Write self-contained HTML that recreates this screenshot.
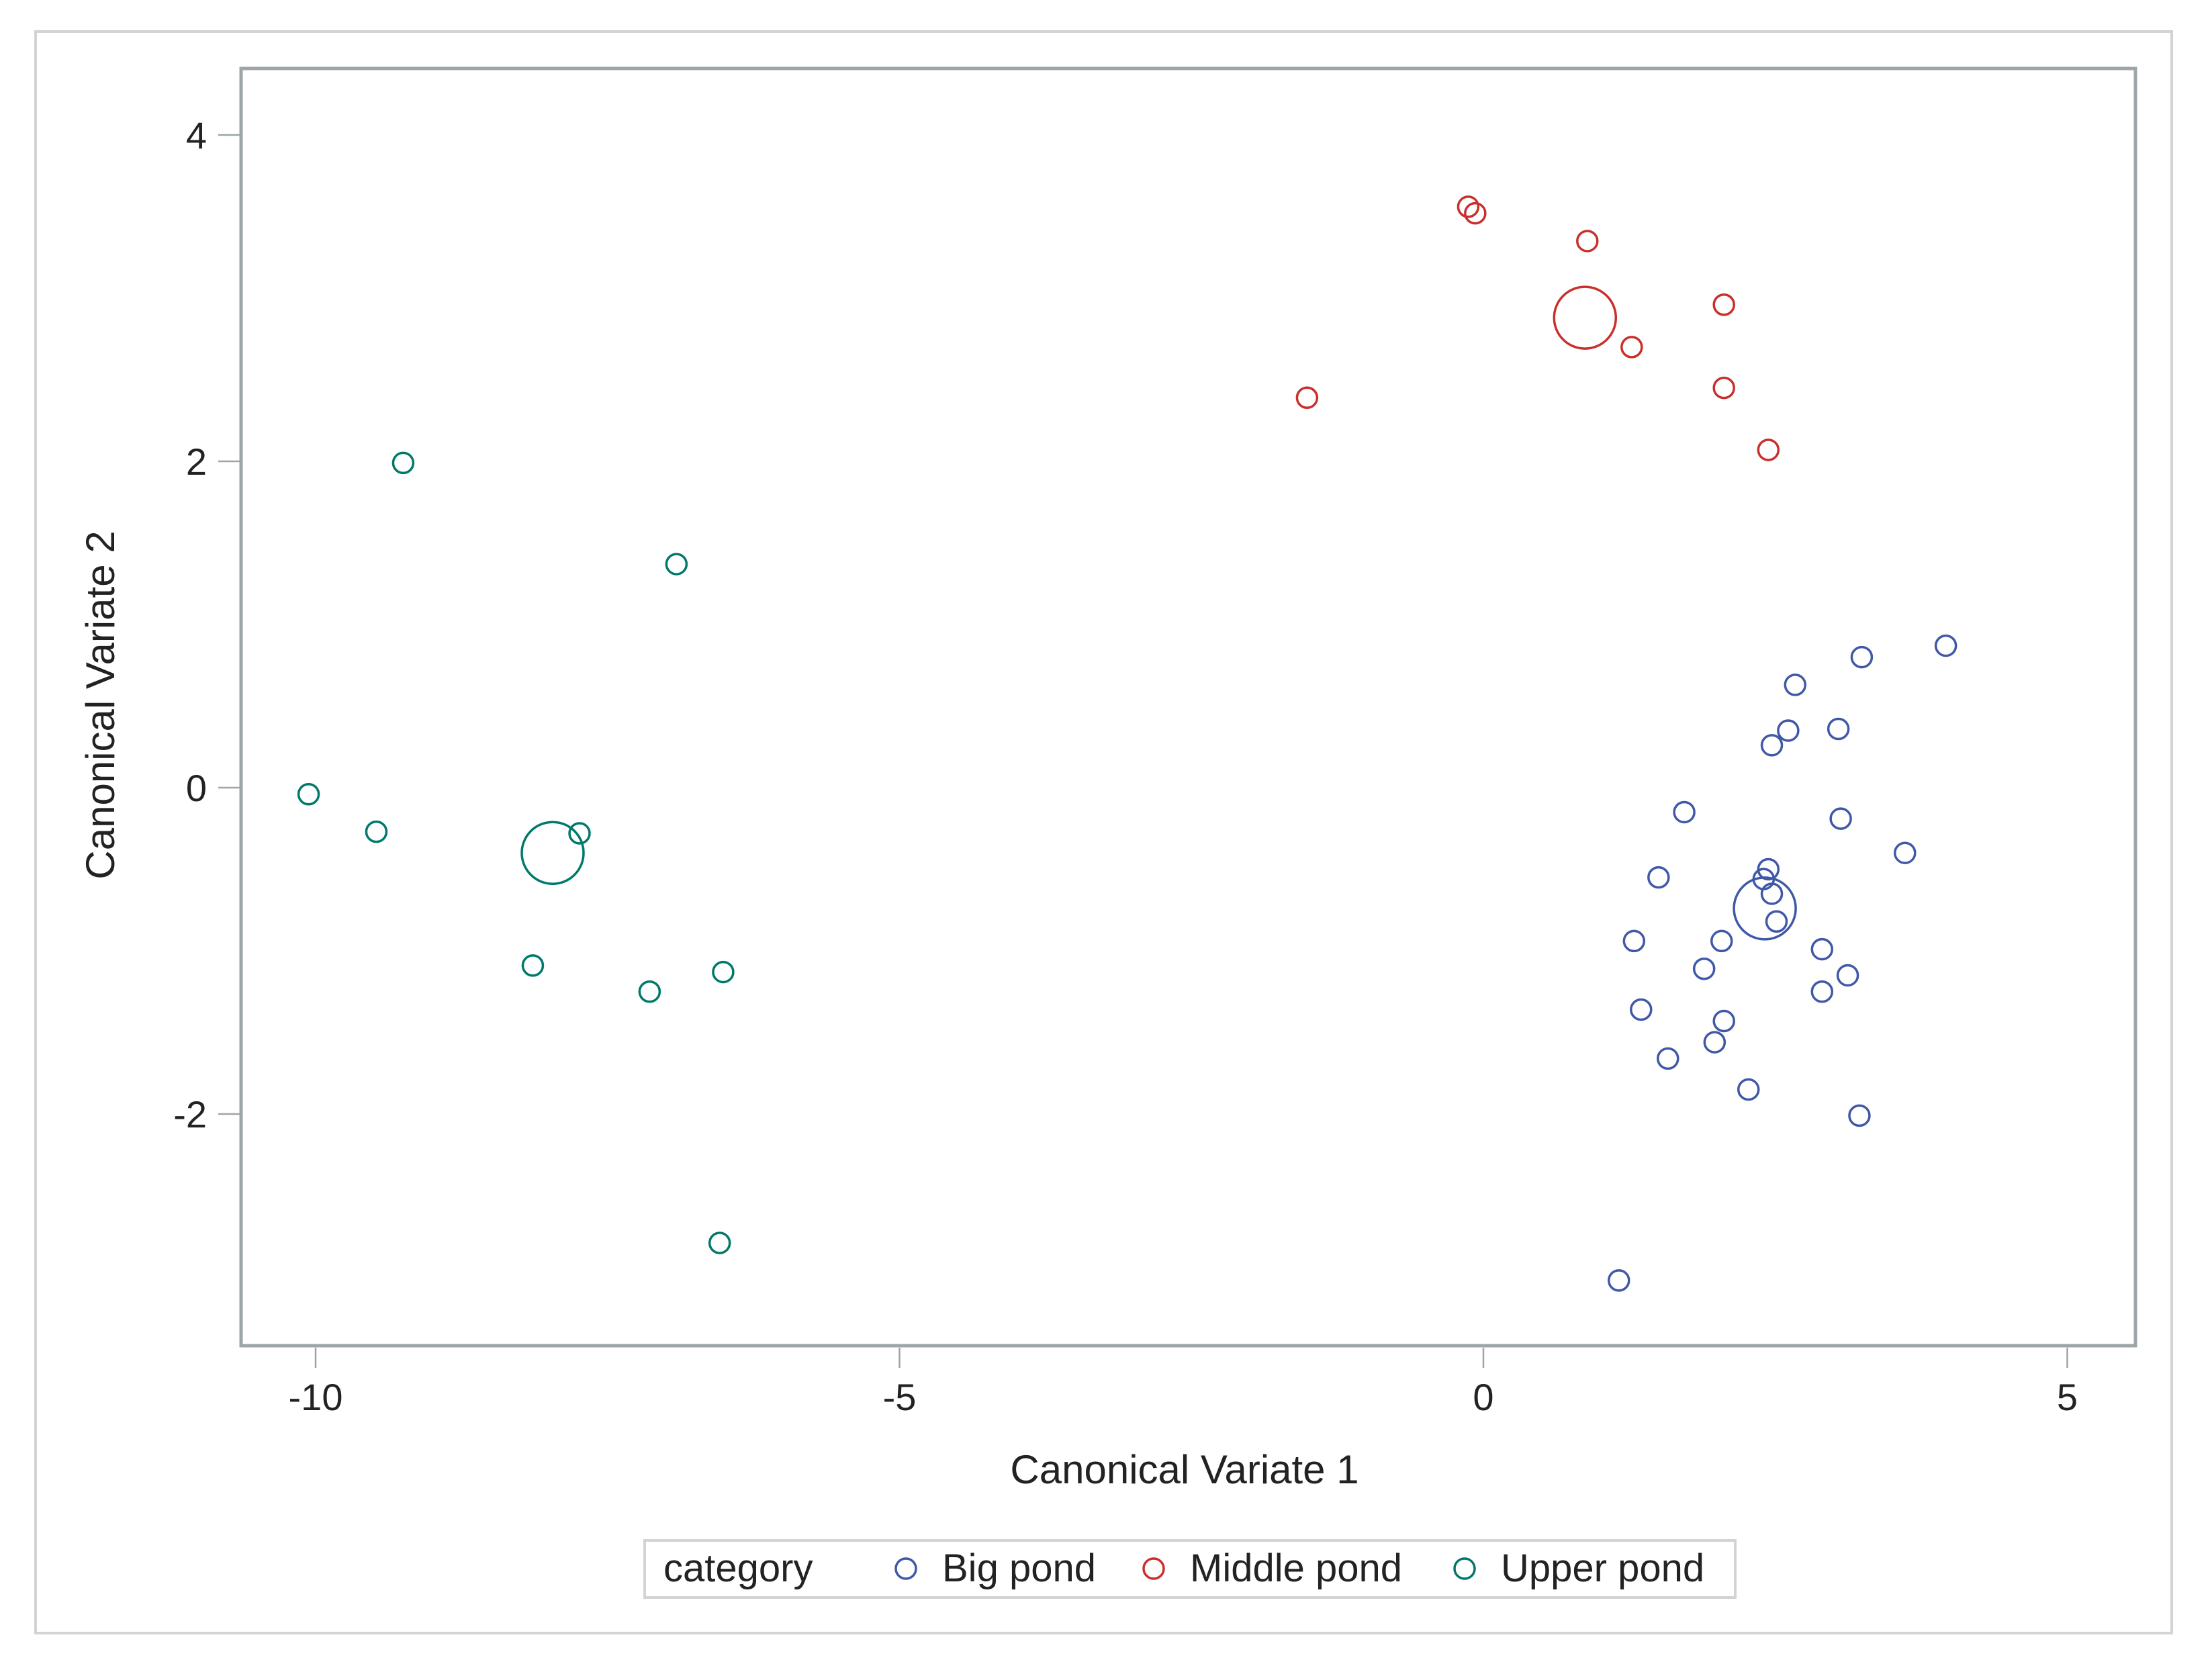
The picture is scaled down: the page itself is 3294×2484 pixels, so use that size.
<!DOCTYPE html>
<html><head><meta charset="utf-8"><style>
html,body{margin:0;padding:0;background:#fff}
svg{display:block;font-family:"Liberation Sans",sans-serif}
</style></head><body>
<svg id="chart" width="3294" height="2484" viewBox="0 0 3294 2484" xmlns="http://www.w3.org/2000/svg">
<rect x="53" y="47" width="3181" height="2385" fill="none" stroke="#d3d3d3" stroke-width="4"/>
<g id="marks"></g>
<rect x="359" y="102" width="2821" height="1902" fill="none" stroke="#9ca5a8" stroke-width="5"/>
<g id="axes"></g>
<text x="1764" y="2209" font-size="60" text-anchor="middle" fill="#222">Canonical Variate 1</text>
<text transform="translate(170,1050) rotate(-90)" font-size="60" text-anchor="middle" fill="#222">Canonical Variate 2</text>
<g>
<rect x="960" y="2294" width="1624" height="85" fill="#fff" stroke="#d3d3d3" stroke-width="4"/>
<text x="988" y="2355" font-size="58" fill="#222">category</text>
<circle cx="1349" cy="2336" r="15" fill="none" stroke="#3f58a8" stroke-width="3.5"/>
<text x="1403" y="2355" font-size="58" fill="#222">Big pond</text>
<circle cx="1718" cy="2336" r="15" fill="none" stroke="#c9302c" stroke-width="3.5"/>
<text x="1772" y="2355" font-size="58" fill="#222">Middle pond</text>
<circle cx="2181" cy="2336" r="15" fill="none" stroke="#00796b" stroke-width="3.5"/>
<text x="2235" y="2355" font-size="58" fill="#222">Upper pond</text>
</g>
</svg>
<script>
const xTicks = [-10, -5, 0, 5];
const yTicks = [4, 2, 0, -2];
const bigX = [3.96,3.24,2.67,2.61,3.04,2.47,1.72,3.06,3.61,1.50,2.44,2.40,2.47,2.51,1.29,2.04,2.90,1.89,3.12,2.90,1.35,2.06,1.98,1.58,2.27,3.22,1.16];
const bigY = [0.87,0.80,0.63,0.35,0.36,0.26,-0.15,-0.19,-0.40,-0.55,-0.50,-0.56,-0.65,-0.82,-0.94,-0.94,-0.99,-1.11,-1.15,-1.25,-1.36,-1.43,-1.56,-1.66,-1.85,-2.01,-3.02];
const midX = [-0.13,-0.07,0.89,2.06,1.27,2.06,-1.51,2.44];
const midY = [3.56,3.52,3.35,2.96,2.70,2.45,2.39,2.07];
const upX = [-9.25,-6.91,-10.06,-9.48,-7.74,-8.14,-7.14,-6.51,-6.54];
const upY = [1.99,1.37,-0.04,-0.27,-0.28,-1.09,-1.25,-1.13,-2.79];
const centX = [2.41, 0.87, -7.97];
const centY = [-0.74, 2.88, -0.40];
const groups = ['big-pond','middle-pond','upper-pond'];
const colors = ['#3f58a8','#c9302c','#00796b'];

const NS = 'http://www.w3.org/2000/svg';
function sx(v){ return 2209 + v * 173.9; }
function sy(v){ return 1173 - v * 243; }
const marks = document.getElementById('marks');
const axes = document.getElementById('axes');
function circ(x, y, r, c, name){
  const el = document.createElementNS(NS,'circle');
  el.setAttribute('cx', sx(x)); el.setAttribute('cy', sy(y)); el.setAttribute('r', r);
  el.setAttribute('fill','none'); el.setAttribute('stroke', c); el.setAttribute('stroke-width', 3.5);
  
  
  marks.appendChild(el);
}
const sets = [[bigX,bigY],[midX,midY],[upX,upY]];
sets.forEach((s,g)=>{
  s[0].forEach((x,i)=>circ(x, s[1][i], 15, colors[g], groups[g]+'-point'));
  circ(centX[g], centY[g], 46, colors[g], groups[g]+'-centroid');
});
xTicks.forEach(t=>{
  const l = document.createElementNS(NS,'line');
  l.setAttribute('x1', sx(t)); l.setAttribute('x2', sx(t)); l.setAttribute('y1', 2007); l.setAttribute('y2', 2037);
  l.setAttribute('stroke','#9ca5a8'); l.setAttribute('stroke-width',2.5);
  
  
  axes.appendChild(l);
  const tx = document.createElementNS(NS,'text');
  tx.setAttribute('x', sx(t)); tx.setAttribute('y', 2100); tx.setAttribute('font-size', 56);
  tx.setAttribute('text-anchor','middle'); tx.setAttribute('fill','#222');
  tx.textContent = String(t);
  
  
  axes.appendChild(tx);
});
yTicks.forEach(t=>{
  const l = document.createElementNS(NS,'line');
  l.setAttribute('x1', 325); l.setAttribute('x2', 357); l.setAttribute('y1', sy(t)); l.setAttribute('y2', sy(t));
  l.setAttribute('stroke','#9ca5a8'); l.setAttribute('stroke-width',2.5);
  
  
  axes.appendChild(l);
  const tx = document.createElementNS(NS,'text');
  tx.setAttribute('x', 308); tx.setAttribute('y', sy(t) + 20); tx.setAttribute('font-size', 56);
  tx.setAttribute('text-anchor','end'); tx.setAttribute('fill','#222');
  tx.textContent = String(t);
  
  
  axes.appendChild(tx);
});
</script>
</body></html>
